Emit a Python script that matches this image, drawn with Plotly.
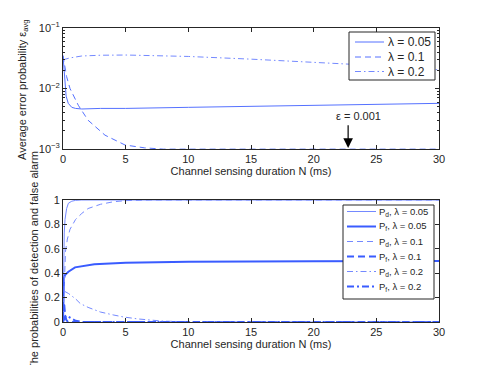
import plotly.graph_objects as go

# ---------------- data ----------------
# top panel: average error probability vs. sensing duration N (ms)
n_eps_005 = [0, 0.05, 0.1, 0.16, 0.25, 0.42, 0.7, 1.0, 1.5, 3, 5, 10, 15, 20, 25, 30]
eps_005 = [0.035, 0.025, 0.016, 0.0107, 0.0075, 0.0057, 0.0049, 0.0047, 0.0046,
           0.0047, 0.0047, 0.0049, 0.0051, 0.0053, 0.0055, 0.0057]

n_eps_01 = [0, 0.29, 0.56, 1.22, 2.0, 3.35, 4.95, 6.5, 8, 30]
eps_01 = [0.035, 0.0157, 0.010, 0.0053, 0.0030, 0.0017, 0.00117, 0.00105, 0.001, 0.001]

n_eps_02 = [0, 0.5, 1.5, 3, 5, 10, 15, 20, 25, 30]
eps_02 = [0.0298, 0.0319, 0.0345, 0.0355, 0.0358, 0.0339, 0.0306, 0.0273, 0.0240, 0.0204]

# bottom panel: detection / false alarm probabilities
n_pd_005 = [0, 0.05, 0.1, 0.16, 0.29, 0.43, 0.7, 1.0, 1.5, 30]
pd_005 = [0, 0.55, 0.73, 0.84, 0.93, 0.973, 0.99, 0.997, 1.0, 1.0]

n_pf_005 = [0, 0.03, 0.08, 0.16, 0.43, 0.96, 2.5, 5, 10, 20, 30]
pf_005 = [0, 0.30, 0.36, 0.385, 0.412, 0.448, 0.474, 0.486, 0.493, 0.497, 0.499]

n_pd_01 = [0, 0.1, 0.2, 0.35, 0.56, 1.0, 1.5, 2.0, 3.0, 4.0, 5.0, 7, 30]
pd_01 = [0, 0.40, 0.58, 0.68, 0.76, 0.84, 0.89, 0.93, 0.965, 0.985, 0.995, 1.0, 1.0]

n_pf_01 = [0, 0.05, 0.1, 0.15, 0.25, 0.4, 30]
pf_01 = [0.0, 0.16, 0.14, 0.08, 0.02, 0.0, 0.0]

n_pd_02 = [0.15, 0.45, 1.0, 1.38, 2.0, 2.98, 4.0, 4.84, 6.0, 6.97, 8, 10, 30]
pd_02 = [0.25, 0.233, 0.19, 0.151, 0.12, 0.082, 0.058, 0.041, 0.025, 0.014, 0.007, 0.002, 0.0]

n_pf_02 = [0, 0.2, 0.43, 0.7, 1.0, 1.5, 30]
pf_02 = [0.0, 0.05, 0.044, 0.025, 0.01, 0.0, 0.0]

x_ticks = [0, 5, 10, 15, 20, 25, 30]
log_ticks = [0.1, 0.01, 0.001]
log_labels = ['10<sup>−1</sup>', '10<sup>−2</sup>', '10<sup>−3</sup>']
lin_ticks = [0, 0.2, 0.4, 0.6, 0.8, 1]
lin_labels = ['0', '0.2', '0.4', '0.6', '0.8', '1']

# ---------------- styles ----------------
FONT = 'Liberation Sans, Arial, sans-serif'
INK = '#262626'
BLUE = '#3a5cff'
MID = '#5571ff'
LIGHT = '#7489ff'
DASH = '6px,4px'
DASHDOT = '6px,3px,1.5px,3px'
DASH_B = '7px,4px'
DASHDOT_B = '7px,3px,2px,3px'

# page has an 8px body margin: plot area lands on 63..439 x 28..322 of the page
L, R, T, B = 55, 54, 20, 51


def px_x(px):
    return (px - 63) / 376.0


def px_y(py):
    return (322 - py) / 294.0


top_series = [
    (n_eps_005, eps_005, 'λ = 0.05', MID, 1, 'solid'),
    (n_eps_01, eps_01, 'λ = 0.1', MID, 1, DASH),
    (n_eps_02, eps_02, 'λ = 0.2', LIGHT, 1, DASHDOT),
]
bottom_series = [
    (n_pd_005, pd_005, 'P<sub>d</sub>, λ = 0.05', LIGHT, 1, 'solid'),
    (n_pf_005, pf_005, 'P<sub>f</sub>, λ = 0.05', BLUE, 2, 'solid'),
    (n_pd_01, pd_01, 'P<sub>d</sub>, λ = 0.1', LIGHT, 1, DASH),
    (n_pf_01, pf_01, 'P<sub>f</sub>, λ = 0.1', BLUE, 2, DASH_B),
    (n_pd_02, pd_02, 'P<sub>d</sub>, λ = 0.2', LIGHT, 1, DASHDOT),
    (n_pf_02, pf_02, 'P<sub>f</sub>, λ = 0.2', BLUE, 2, DASHDOT_B),
]

fig = go.Figure()
for xs, ys, name, col, w, dash in top_series:
    fig.add_trace(go.Scatter(x=xs, y=ys, mode='lines', name=name,
                             line=dict(color=col, width=w, dash=dash), xaxis='x', yaxis='y'))
for xs, ys, name, col, w, dash in bottom_series:
    fig.add_trace(go.Scatter(x=xs, y=ys, mode='lines', name=name,
                             line=dict(color=col, width=w, dash=dash), xaxis='x2', yaxis='y2'))

axis_common = dict(showline=True, mirror='ticks', linecolor=INK, linewidth=1,
                   ticks='inside', ticklen=4, tickcolor=INK, showgrid=False,
                   zeroline=False, tickfont=dict(family=FONT, size=11, color=INK))

fig.update_layout(
    width=485, height=365,
    margin=dict(l=L, r=R, t=T, b=B),
    paper_bgcolor='white', plot_bgcolor='white',
    font=dict(family=FONT, size=11, color=INK),
    showlegend=False,
    xaxis=dict(domain=[0, 1], anchor='y', range=[0, 30], tickvals=x_ticks,
               title=dict(text='Channel sensing duration N (ms)', standoff=0,
                          font=dict(size=11)), **axis_common),
    yaxis=dict(domain=[0.588, 1], anchor='x', type='log', range=[-3, -1],
               tickvals=log_ticks, ticktext=log_labels,
               minor=dict(ticks='inside', ticklen=2, tickcolor=INK,
                          tickvals=[0.002, 0.003, 0.004, 0.005, 0.006, 0.007, 0.008, 0.009,
                                    0.02, 0.03, 0.04, 0.05, 0.06, 0.07, 0.08, 0.09]),
               **axis_common),
    xaxis2=dict(domain=[0, 1], anchor='y2', range=[0, 30], tickvals=x_ticks,
                title=dict(text='Channel sensing duration N (ms)', standoff=0,
                           font=dict(size=11)), **axis_common),
    yaxis2=dict(domain=[0, 0.415], anchor='x2', range=[0, 1],
                tickvals=lin_ticks, ticktext=lin_labels, **axis_common),
)


# MATLAB-style boxed legends drawn with shapes and text
def add_legend(series, box, rows, sample, text_x, size):
    x0, x1, y0, y1 = box
    fig.add_shape(type='rect', xref='paper', yref='paper', layer='above',
                  x0=px_x(x0), x1=px_x(x1), y0=px_y(y1), y1=px_y(y0),
                  line=dict(color=INK, width=1), fillcolor='white')
    for (xs, ys, name, col, w, dash), ry in zip(series, rows):
        fig.add_shape(type='line', xref='paper', yref='paper', layer='above',
                      x0=px_x(sample[0]), x1=px_x(sample[1]), y0=px_y(ry), y1=px_y(ry),
                      line=dict(color=col, width=w, dash=dash))
        fig.add_annotation(text=name, xref='paper', yref='paper', x=px_x(text_x), y=px_y(ry),
                           xanchor='left', yanchor='middle', showarrow=False,
                           font=dict(size=size, color=INK))


add_legend(top_series, (349, 435, 32, 80), [42, 57, 71.5], (355, 384), 386, 12)
add_legend(bottom_series, (343, 434, 205, 299), [211.5, 226.5, 241.5, 256.5, 271.5, 286.5],
           (347, 376), 377, 9.5)

# y axis titles as rotated annotations (bottom one runs past the figure edge)
fig.add_annotation(text='Average error probability ε<sub>avg</sub>', xref='paper', yref='paper',
                   x=px_x(23), y=px_y(90), xanchor='center', yanchor='middle', textangle=-90,
                   showarrow=False, font=dict(size=11))
fig.add_annotation(text='The probabilities of detection and false alarm', xref='paper', yref='paper',
                   x=px_x(34), y=px_y(261), xanchor='center', yanchor='middle', textangle=-90,
                   showarrow=False, font=dict(size=11))

# epsilon = 0.001 marker
fig.add_annotation(text='ε = 0.001', xref='x', yref='y', x=23.6, y=-2.45,
                   showarrow=False, font=dict(size=11))
fig.add_annotation(text='', xref='x', yref='y', axref='x', ayref='y',
                   x=22.75, y=-2.98, ax=22.75, ay=-2.58,
                   showarrow=True, arrowhead=2, arrowsize=1.6, arrowwidth=1.2, arrowcolor='black')

fig.write_html("out.html")
